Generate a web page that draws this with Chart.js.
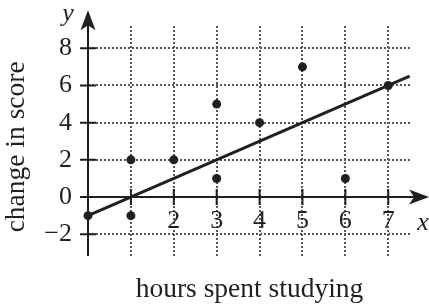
<!DOCTYPE html>
<html>
<head>
<meta charset="utf-8">
<script src="https://cdn.jsdelivr.net/npm/chart.js@4.4.1/dist/chart.umd.min.js"></script>
<style>
  html, body { margin: 0; padding: 0; background: #fff; }
  canvas { display: block; }
</style>
</head>
<body>
<canvas id="scoreChart" width="429" height="306"></canvas>
<script>
// data
const hours = [0, 1, 1, 2, 3, 3, 4, 5, 6, 7];
const scoreChange = [-1, 2, -1, 2, 5, 1, 4, 7, 1, 6];
const fitX = [0, 7.5];
const fitY = [-1, 6.5];
const xTicks = [1, 2, 3, 4, 5, 6, 7];
const xTickLabels = ['', '2', '3', '4', '5', '6', '7'];
const yTicks = [-2, 0, 2, 4, 6, 8];
const yTickLabels = ['\u22122', '0', '2', '4', '6', '8'];

const INK = '#231f20';
const GRID = '#555';
const SERIF = '"Liberation Serif", "Times New Roman", serif';

// axes through the origin, with arrow heads, tick marks, x tick labels and y title
const crossAxes = {
    id: 'crossAxes',
    beforeDatasetsDraw(chart) {
        const { ctx } = chart;
        const xs = chart.scales.x, ys = chart.scales.y;
        const x0 = xs.getPixelForValue(0);
        const y0 = ys.getPixelForValue(0);
        const xEnd = xs.getPixelForValue(7.95);
        const yTop = ys.getPixelForValue(10.05);
        const yBot = ys.getPixelForValue(ys.min);

        ctx.save();
        ctx.strokeStyle = INK;
        ctx.fillStyle = INK;
        ctx.lineWidth = 2;
        ctx.beginPath();
        ctx.moveTo(x0, yBot);
        ctx.lineTo(x0, yTop + 14);
        ctx.moveTo(x0, y0);
        ctx.lineTo(xEnd - 14, y0);
        yTicks.forEach(v => {
            const p = ys.getPixelForValue(v);
            ctx.moveTo(x0 - 8, p);
            ctx.lineTo(x0 + 8, p);
        });
        xTicks.forEach(v => {
            const p = xs.getPixelForValue(v);
            ctx.moveTo(p, y0 - 8);
            ctx.lineTo(p, y0 + 8);
        });
        ctx.stroke();

        ctx.beginPath();
        ctx.moveTo(x0, yTop);
        ctx.lineTo(x0 - 7.5, yTop + 20);
        ctx.lineTo(x0, yTop + 15);
        ctx.lineTo(x0 + 7.5, yTop + 20);
        ctx.closePath();
        ctx.moveTo(xEnd, y0);
        ctx.lineTo(xEnd - 20, y0 - 7.5);
        ctx.lineTo(xEnd - 15, y0);
        ctx.lineTo(xEnd - 20, y0 + 7.5);
        ctx.closePath();
        ctx.fill();

        ctx.font = '26px ' + SERIF;
        ctx.textAlign = 'center';
        ctx.textBaseline = 'middle';
        xTicks.forEach((v, i) => {
            ctx.fillText(xTickLabels[i], xs.getPixelForValue(v), y0 + 24);
        });

        ctx.font = 'italic 26px ' + SERIF;
        ctx.textBaseline = 'alphabetic';
        ctx.fillText('x', xEnd - 6, y0 + 33);
        ctx.fillText('y', x0 - 20, yTop + 11);

        // y axis title, a little below the middle of the plot as in the print
        ctx.translate(17, ys.getPixelForValue(2.7));
        ctx.rotate(-Math.PI / 2);
        ctx.font = '27.5px ' + SERIF;
        ctx.textBaseline = 'middle';
        ctx.fillText('change in score', 0, 0);
        ctx.restore();
    }
};

new Chart(document.getElementById('scoreChart'), {
    type: 'scatter',
    data: {
        datasets: [
            {
                data: fitX.map((x, i) => ({ x: x, y: fitY[i] })),
                showLine: true,
                borderColor: INK,
                borderWidth: 3,
                pointRadius: 0,
                clip: false,
                order: 2
            },
            {
                data: hours.map((h, i) => ({ x: h, y: scoreChange[i] })),
                backgroundColor: INK,
                borderWidth: 0,
                pointRadius: 4.5,
                clip: false,
                order: 1
            }
        ]
    },
    options: {
        responsive: false,
        animation: false,
        devicePixelRatio: 1,
        layout: { padding: { top: 26, right: 18, left: 0, bottom: 0 } },
        plugins: {
            legend: { display: false },
            tooltip: { enabled: false }
        },
        scales: {
            x: {
                type: 'linear',
                min: 0,
                max: 7.53,
                afterBuildTicks: s => { s.ticks = xTicks.map(v => ({ value: v })); },
                afterFit: s => { s.height = 50; s.paddingLeft = 0; s.paddingRight = 0; },
                ticks: { display: false },
                grid: { color: GRID, lineWidth: 2, drawTicks: false },
                border: { display: false, dash: [2, 2] },
                title: {
                    display: true,
                    text: 'hours spent studying',
                    color: INK,
                    font: { family: SERIF, size: 27.5 },
                    padding: { top: 2, bottom: 0 }
                }
            },
            y: {
                type: 'linear',
                min: -3.17,
                max: 9.2,
                afterBuildTicks: s => { s.ticks = yTicks.map(v => ({ value: v })); },
                afterFit: s => { s.width = 88; s.paddingTop = 0; s.paddingBottom = 0; },
                ticks: {
                    autoSkip: false,
                    padding: 16,
                    color: INK,
                    font: { family: SERIF, size: 26 },
                    callback: (v, i) => yTickLabels[i]
                },
                grid: {
                    color: c => (c.tick && c.tick.value === 0) ? 'rgba(0,0,0,0)' : GRID,
                    lineWidth: 2,
                    drawTicks: false
                },
                border: { display: false, dash: [2, 2] },
                title: { display: false }
            }
        }
    },
    plugins: [crossAxes]
});
</script>
</body>
</html>
